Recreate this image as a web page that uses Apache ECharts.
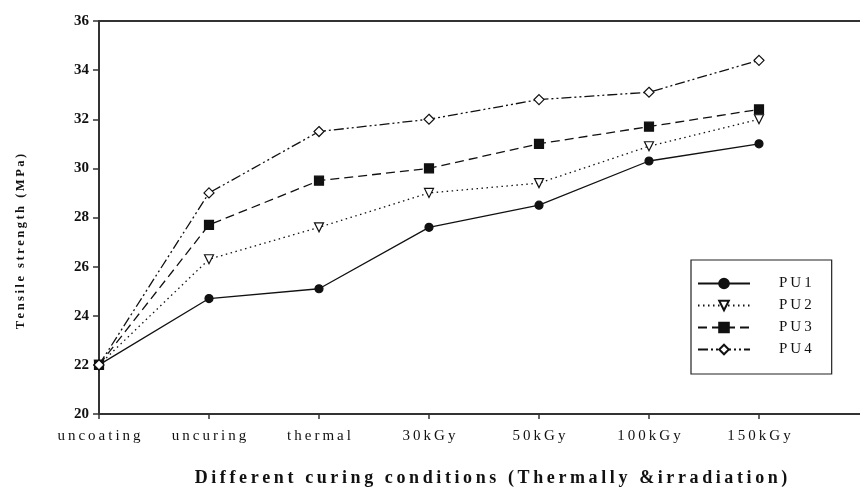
<!DOCTYPE html>
<html>
<head>
<meta charset="utf-8">
<script src="https://cdn.jsdelivr.net/npm/echarts@6/dist/echarts.min.js"></script>
<style>
  html, body { margin: 0; padding: 0; background: #fff; }
  #chart { width: 860px; height: 489px; }
</style>
</head>
<body>
<div id="chart"></div>
<script>
// curing conditions (last blank slot keeps the axis running past 150kGy)
const conditions = ['uncoating', 'uncuring', 'thermal', '30kGy', '50kGy', '100kGy', '150kGy', '']
const pu1 = [22.0, 24.7, 25.1, 27.6, 28.5, 30.3, 31.0]
const pu2 = [22.0, 26.3, 27.6, 29.0, 29.4, 30.9, 32.0]
const pu3 = [22.0, 27.7, 29.5, 30.0, 31.0, 31.7, 32.4]
const pu4 = [22.0, 29.0, 31.5, 32.0, 32.8, 33.1, 34.4]

const serif = 'Liberation Serif'
const ink = '#111'

// the scanned figure has wide, letter-spaced text: pad with thin spaces
const spaced = s => s.split('').join('\u2009')

const chart = echarts.init(document.getElementById('chart'))

function line (name, data, dash, symbol, size, filled, rotate) {
  return {
    name: name,
    type: 'line',
    data: data,
    symbol: symbol,
    symbolSize: size,
    symbolRotate: rotate || 0,
    showAllSymbol: true,
    lineStyle: { color: ink, width: 1.3, type: dash },
    itemStyle: {
      color: filled ? ink : '#fff',
      borderColor: ink,
      borderWidth: 1.2
    },
    emphasis: { disabled: true },
    animation: false
  }
}

chart.setOption({
  backgroundColor: '#fff',
  grid: {
    left: 99,
    top: 21,
    right: -9,
    bottom: 75,
    outerBoundsMode: 'none',
    show: true,
    borderColor: '#333',
    borderWidth: 2
  },
  legend: {
    orient: 'vertical',
    left: 691,
    top: 260,
    padding: [16, 20, 17, 6],
    itemGap: 7,
    itemWidth: 52,
    itemHeight: 12,
    backgroundColor: '#fff',
    borderColor: '#222',
    borderWidth: 1.2,
    formatter: name => spaced(name),
    textStyle: { fontFamily: serif, fontSize: 15, color: ink, padding: [0, 0, 0, 24] },
    data: ['PU1', 'PU2', 'PU3', 'PU4']
  },
  xAxis: {
    type: 'category',
    data: conditions,
    boundaryGap: false,
    name: spaced('Different curing conditions (Thermally &irradiation)'),
    nameLocation: 'middle',
    nameGap: 55,
    nameTextStyle: { fontFamily: serif, fontSize: 18, fontWeight: 'bold', color: ink, padding: [0, 0, 0, 14] },
    axisLine: { lineStyle: { color: '#333', width: 2 } },
    axisTick: { alignWithLabel: true, length: 5, lineStyle: { color: '#333', width: 1.5 } },
    axisLabel: {
      fontFamily: serif,
      fontSize: 15,
      color: ink,
      margin: 15,
      interval: 0,
      formatter: v => spaced(v)
    },
    splitLine: { show: false }
  },
  yAxis: {
    type: 'value',
    min: 20,
    max: 36,
    interval: 2,
    name: spaced('Tensile strength (MPa)'),
    nameLocation: 'middle',
    nameGap: 72,
    nameRotate: 90,
    nameTextStyle: { fontFamily: serif, fontSize: 12.5, fontWeight: 'bold', color: ink, padding: [0, 48, 0, 0] },
    axisLine: { show: true, lineStyle: { color: '#333', width: 2 } },
    axisTick: { show: true, length: 6, lineStyle: { color: '#333', width: 1.5 } },
    axisLabel: { fontFamily: serif, fontSize: 15, fontWeight: 'bold', color: ink, margin: 10 },
    splitLine: { show: false }
  },
  series: [
    line('PU1', pu1, 'solid', 'circle', 8, true),
    line('PU2', pu2, [1.5, 3.5], 'triangle', 9, false, 180),
    line('PU3', pu3, [9, 5], 'rect', 9, true),
    line('PU4', pu4, [10, 3, 2, 3, 2, 3], 'diamond', 10, false)
  ]
})
</script>
</body>
</html>
